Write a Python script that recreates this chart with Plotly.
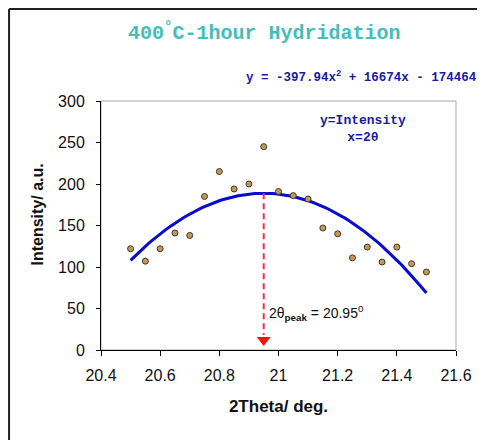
import plotly.graph_objects as go
import numpy as np

# Data
two_theta = [20.50, 20.55, 20.60, 20.65, 20.70, 20.75, 20.80, 20.85, 20.90, 20.95, 21.00,
             21.05, 21.10, 21.15, 21.20, 21.25, 21.30, 21.35, 21.40, 21.45, 21.50]
intensity = [122, 107, 122, 141, 138, 185, 215, 194, 200, 245, 191,
             186, 182, 147, 140, 111, 124, 106, 124, 104, 94]

# Trendline coefficients printed on the chart (constant re-fitted, print is rounded)
A = -397.94
B = 16674.0
PEAK_X = 20.95

x = np.array(two_theta)
y = np.array(intensity)
C = np.mean(y - A * x**2 - B * x)
x_fit = np.linspace(x.min(), x.max(), 101)
y_fit = A * x_fit**2 + B * x_fit + C
peak_y = A * PEAK_X**2 + B * PEAK_X + C

NAVY = "#1a1aa0"
TEAL = "#45bdb8"
RED = "#f0304a"
MONO = "Liberation Mono, Courier New, monospace"

fig = go.Figure()

fig.add_trace(go.Scatter(
    x=x_fit, y=y_fit, mode="lines",
    line=dict(color="#0a0ad0", width=3), hoverinfo="skip"
))
fig.add_trace(go.Scatter(
    x=two_theta, y=intensity, mode="markers",
    marker=dict(size=6, color="#c8964e", line=dict(color="#3a3a3a", width=1))
))
# dashed drop line from the peak down to the axis
fig.add_trace(go.Scatter(
    x=[PEAK_X, PEAK_X], y=[peak_y, 18], mode="lines",
    line=dict(color=RED, width=2, dash="6px,4px"), hoverinfo="skip"
))
fig.add_trace(go.Scatter(
    x=[PEAK_X], y=[12], mode="markers",
    marker=dict(symbol="triangle-down", size=12, color="#ff1010"), hoverinfo="skip"
))

# plot area frame (grey)
fig.add_shape(type="rect", xref="paper", yref="paper", x0=0, y0=0, x1=1, y1=1,
              line=dict(color="#a8a8a8", width=1), layer="below")
# outer chart frame: only its left and top edges fall inside the picture
fig.add_shape(type="line", xref="paper", yref="paper", x0=-0.259, y0=-0.40, x1=-0.259, y1=1.3695,
              line=dict(color="#202020", width=2))
fig.add_shape(type="line", xref="paper", yref="paper", x0=-0.259, y0=1.3695, x1=1.09, y1=1.3695,
              line=dict(color="#202020", width=2))

fig.add_annotation(
    text="<b>400<sup>°</sup>C-1hour Hydridation</b>", xref="paper", yref="paper",
    x=0.459, y=1.277, xanchor="center", yanchor="middle", showarrow=False,
    font=dict(family=MONO, size=20, color=TEAL)
)
fig.add_annotation(
    text="<b>y = -397.94x<sup>2</sup> + 16674x - 174464</b>", xref="paper", yref="paper",
    x=0.403, y=1.096, xanchor="left", yanchor="middle", showarrow=False,
    font=dict(family=MONO, size=12.5, color=NAVY)
)
fig.add_annotation(
    text="<b>y=Intensity<br>x=2θ</b>", xref="paper", yref="paper",
    x=0.738, y=0.888, xanchor="center", yanchor="middle", showarrow=False,
    font=dict(family=MONO, size=13, color=NAVY)
)
fig.add_annotation(
    text="2θ<sub><b>peak</b></sub> = 20.95<sup>0</sup>", x=20.96, y=45,
    xanchor="left", yanchor="middle", showarrow=False,
    font=dict(family="Liberation Sans Narrow, Arial Narrow, Arial", size=14, color="#111111")
)
# y axis title placed as annotation (it sits a little above the plot centre)
fig.add_annotation(
    text="<b>Intensity/ a.u.</b>", xref="paper", yref="paper",
    x=-0.179, y=0.546, xanchor="center", yanchor="middle", textangle=-90,
    showarrow=False, font=dict(size=16, color="#111111")
)

# page body adds 8px offset, so size and margins are trimmed to keep the plot area in place
fig.update_layout(
    width=477, height=432,
    margin=dict(l=93, r=29, t=93, b=90),
    paper_bgcolor="white", plot_bgcolor="white",
    showlegend=False,
    font=dict(family="Liberation Sans, Arial, sans-serif", size=16, color="#111111"),
    xaxis=dict(
        range=[20.4, 21.6], dtick=0.2, tickformat="~g",
        showgrid=False, zeroline=False, showline=True, linecolor="black", linewidth=1,
        ticks="outside", ticklen=5, tickcolor="black", ticklabelstandoff=6,
        title=dict(text="<b>2Theta/ deg.</b>", font=dict(size=17), standoff=16)
    ),
    yaxis=dict(
        range=[0, 300], dtick=50,
        showgrid=False, zeroline=False, showline=True, linecolor="black", linewidth=1,
        ticks="outside", ticklen=4, tickcolor="black", ticklabelstandoff=8
    ),
)

fig.write_html("out.html")
